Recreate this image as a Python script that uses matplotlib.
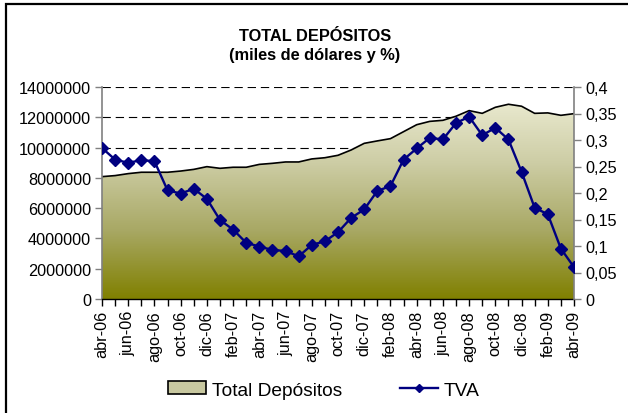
import matplotlib
matplotlib.use("Agg")
import matplotlib.pyplot as plt
import numpy as np
from matplotlib.patches import Rectangle, Patch
from matplotlib.lines import Line2D
from matplotlib.colors import LinearSegmentedColormap
from matplotlib.ticker import FuncFormatter

plt.rcParams['font.family'] = ['Liberation Sans', 'DejaVu Sans']
plt.rcParams['lines.scale_dashes'] = False

months = ["abr-06", "may-06", "jun-06", "jul-06", "ago-06", "sep-06", "oct-06", "nov-06",
          "dic-06", "ene-07", "feb-07", "mar-07", "abr-07", "may-07", "jun-07", "jul-07",
          "ago-07", "sep-07", "oct-07", "nov-07", "dic-07", "ene-08", "feb-08", "mar-08",
          "abr-08", "may-08", "jun-08", "jul-08", "ago-08", "sep-08", "oct-08", "nov-08",
          "dic-08", "ene-09", "feb-09", "mar-09", "abr-09"]

total_depositos = [8080000, 8150000, 8280000, 8370000, 8370000, 8370000, 8450000, 8560000,
                   8740000, 8630000, 8700000, 8700000, 8890000, 8960000, 9050000, 9050000,
                   9250000, 9330000, 9490000, 9840000, 10280000, 10440000, 10590000, 11050000,
                   11510000, 11730000, 11800000, 12070000, 12440000, 12260000, 12660000, 12860000,
                   12730000, 12260000, 12290000, 12130000, 12240000]

tva = [0.285, 0.263, 0.257, 0.262, 0.260, 0.205, 0.199, 0.208,
       0.189, 0.149, 0.131, 0.106, 0.099, 0.0925, 0.0906, 0.0805,
       0.102, 0.109, 0.126, 0.153, 0.169, 0.204, 0.213, 0.263,
       0.284, 0.304, 0.301, 0.332, 0.344, 0.309, 0.323, 0.301,
       0.240, 0.172, 0.160, 0.095, 0.060]

left_ticks = [0, 2000000, 4000000, 6000000, 8000000, 10000000, 12000000, 14000000]
right_ticks = [0, 0.05, 0.1, 0.15, 0.2, 0.25, 0.3, 0.35, 0.4]
right_labels = ["0", "0,05", "0,1", "0,15", "0,2", "0,25", "0,3", "0,35", "0,4"]

W, H = 628, 414
fig = plt.figure(figsize=(W / 100, H / 100), dpi=100)
fig.patch.set_facecolor('white')

# outer chart border
fig.patches.append(Rectangle((6 / W, -0.2), 1.3, 1.2 - 5 / H, transform=fig.transFigure,
                             fill=False, edgecolor='black', linewidth=1.6, zorder=0))

ax = fig.add_axes([102 / W, 1 - 300 / H, 472 / W, 212 / H])
x = np.arange(len(months))

ax.set_xlim(0, len(months) - 1)
ax.set_ylim(0, 14000000)

# gradient area
poly = ax.fill_between(x, 0, total_depositos, facecolor='none', edgecolor='none')
cmap = LinearSegmentedColormap.from_list(
    'olive', [(0.0, (128/255, 128/255, 0/255)),
              (0.35, (168/255, 168/255, 100/255)),
              (0.7, (205/255, 205/255, 165/255)),
              (1.0, (232/255, 232/255, 205/255))])
grad = np.linspace(0, 1, 256).reshape(-1, 1)
top = max(total_depositos)
im = ax.imshow(grad, extent=[0, len(months) - 1, 0, top], origin='lower', aspect='auto',
               cmap=cmap, zorder=1)
im.set_clip_path(poly.get_paths()[0], transform=ax.transData)
ax.plot(x, total_depositos, color='black', linewidth=1.2, zorder=2)

# grid
for v in left_ticks[1:]:
    ax.axhline(v, color='black', linewidth=0.8, linestyle=(0, (6, 3.5)), zorder=0.5)

ax.set_yticks(left_ticks)
ax.yaxis.set_major_formatter(FuncFormatter(lambda v, p: f"{int(v)}"))
ax.set_xticks(x)
ax.set_xticklabels([m if i % 2 == 0 else "" for i, m in enumerate(months)], rotation=90,
                   fontsize=11.7)
ax.tick_params(axis='y', labelsize=11.7, length=5, width=1, color='#808080', pad=3)
ax.tick_params(axis='x', length=5, width=1, color='black', pad=3)
for s in ['top', 'right']:
    ax.spines[s].set_visible(False)
ax.spines['left'].set_color('#808080')
ax.spines['left'].set_linewidth(1.2)
ax.spines['bottom'].set_color('black')
ax.spines['bottom'].set_linewidth(1.0)
ax.set_facecolor('none')

ax2 = ax.twinx()
ax2.set_ylim(0, 0.4)
ax2.set_yticks(right_ticks)
ax2.set_yticklabels(right_labels)
ax2.tick_params(axis='y', labelsize=11.7, length=5, width=1, color='#808080', pad=3)
for s in ['top', 'left', 'bottom']:
    ax2.spines[s].set_visible(False)
ax2.spines['right'].set_color('#808080')
ax2.spines['right'].set_linewidth(1.2)
ax2.plot(x, tva, color='#000080', linewidth=1.7, marker='D', markersize=6.3,
         markerfacecolor='#000080', markeredgecolor='#000080', zorder=3)

# title
fig.text(315 / W, 1 - 41 / H, "TOTAL DEPÓSITOS", ha='center', va='baseline',
         fontsize=11.8, fontweight='bold')
fig.text(315 / W, 1 - 60 / H, "(miles de dólares y %)", ha='center', va='baseline',
         fontsize=11.8, fontweight='bold')

# legend
h1 = Patch(facecolor='#c8c8a0', edgecolor='black', linewidth=1.2)
h2 = Line2D([0], [0], color='#000080', linewidth=1.7, marker='D', markersize=4.5)
fig.legend([h1, h2], ["Total Depósitos", "TVA"], loc='center', bbox_to_anchor=(324 / W, 1 - 391 / H),
           ncol=2, frameon=False, fontsize=13.8, handlelength=2.0, handleheight=0.65,
           columnspacing=3.0, handletextpad=0.3)

fig.savefig("out.png", dpi=100)
